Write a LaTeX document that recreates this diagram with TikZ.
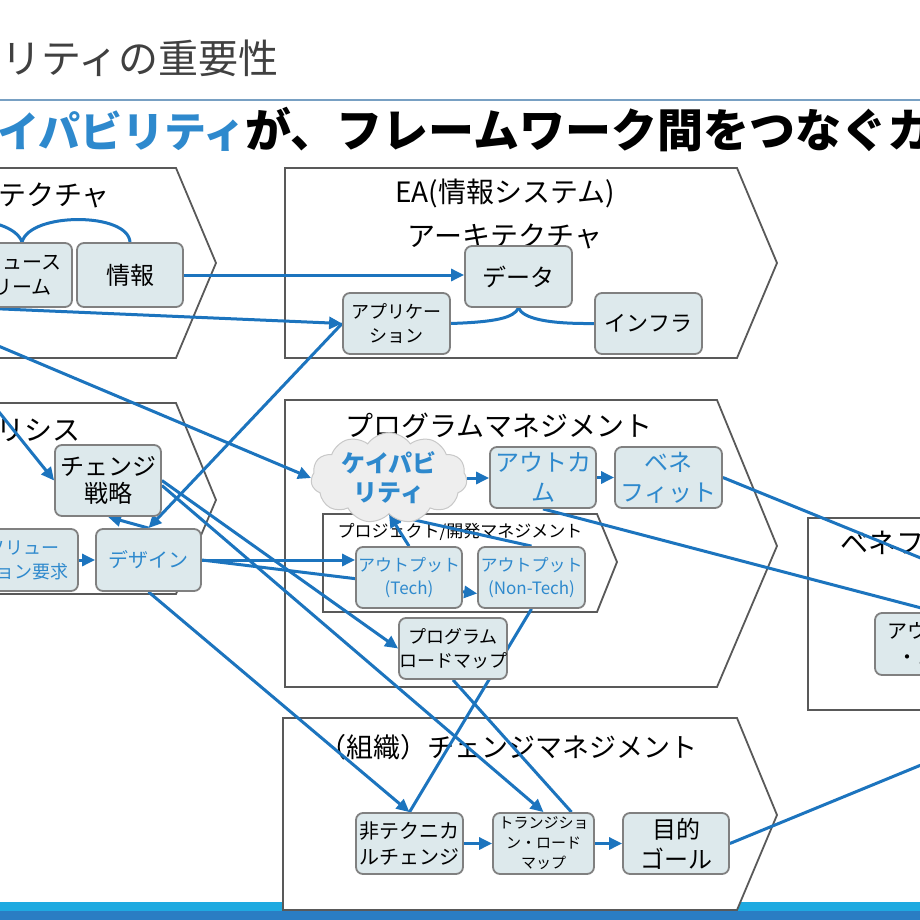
\documentclass[tikz,border=0pt]{standalone}
\usepackage{fontspec}
\setmainfont{Noto Sans CJK JP}
\usetikzlibrary{arrows.meta,shapes.symbols}

\definecolor{linkblue}{RGB}{28,116,190}
\definecolor{txtblue}{RGB}{46,137,205}
\definecolor{boxfill}{RGB}{221,233,236}
\definecolor{boxline}{RGB}{128,128,128}
\definecolor{frameline}{RGB}{89,89,89}
\definecolor{titlegray}{RGB}{64,64,64}
\definecolor{rulecol}{RGB}{120,160,195}
\definecolor{barlight}{RGB}{30,170,225}
\definecolor{bardark}{RGB}{42,125,195}
\definecolor{cloudfill}{RGB}{238,238,238}
\definecolor{cloudline}{RGB}{200,200,200}

\newcommand{\fsz}[2]{\fontsize{#1}{#2}\selectfont}

\pgfdeclarelayer{back}
\pgfdeclarelayer{wires}
\pgfsetlayers{back,wires,main}

\tikzset{
	blk/.style={draw=boxline, fill=boxfill, line width=1.8pt, rounded corners=7pt, align=center, inner sep=0pt, minimum width=106pt, minimum height=61pt},
	chev/.style={draw=frameline, fill=white, line width=1.8pt},
	link/.style={draw=linkblue, line width=3pt, -{Triangle[length=13pt,width=12pt]}},
	wire/.style={draw=linkblue, line width=3pt},
	capcloud/.style={cloud, cloud puffs=11, cloud puff arc=110, cloud ignores aspect, draw=cloudline, fill=cloudfill, line width=1pt, minimum width=156pt, minimum height=84pt, inner sep=0pt, align=center},
}

\begin{document}
\begin{tikzpicture}[x=1pt, y=-1pt]
		\useasboundingbox (0,0) rectangle (920,920);
		
		% heading
		\node[anchor=east, inner sep=0pt, text=titlegray, font=\fsz{40}{44}] (ttl) at (279,58) {ビリティの重要性};
		\draw[rulecol, line width=2pt] (0,100) -- (920,100);
		\node[anchor=west, inner sep=0pt, font=\bfseries\fsz{46}{52}] (subttl) at (-3,130) {\textcolor{txtblue}{\fsz{42}{52}イパビリティ}が、フレームワーク間をつなぐカ};
		
		\coordinate (lft1) at (-30,307.6);
		\coordinate (lft2) at (-30,334);
		\coordinate (lft3) at (-30,376);
		\coordinate (bl) at (-90,243);
		\coordinate (rgt1) at (960,574);
		\coordinate (rgt2) at (960,749);
		
		\begin{pgfonlayer}{back}
			\fill[barlight] (0,902) rectangle (920,911);
			\fill[bardark] (0,911) rectangle (920,920);
			
			\draw[chev] (-10,168) -- (176,168) -- (216,263) -- (176,358) -- (-10,358) --cycle;
			\draw[chev] (285,168) -- (737,168) -- (777,263) -- (737,358) -- (285,358) --cycle;
			\draw[chev] (-10,403) -- (176,403) -- (216,500) -- (176,594) -- (-10,594) --cycle;
			\draw[chev] (285,400) -- (717,400) -- (777,546) -- (717,687) -- (285,687) --cycle;
			\draw[chev] (323,514) -- (597,514) -- (617,562) -- (597,612) -- (323,612) --cycle;
			\draw[chev] (808,518) rectangle (940,710);
			\draw[chev] (283,718) -- (737,718) -- (777,815) -- (737,910) -- (283,910) --cycle;
			
			\node[anchor=west, inner sep=0pt, font=\fsz{28}{32}] (batl) at (-2,195) {テクチャ};
			\node[align=center, inner sep=0pt, font=\fsz{28}{44}] (eatl) at (505,214) {EA(情報システム)\\アーキテクチャ};
			\node[anchor=west, inner sep=0pt, font=\fsz{28}{32}] (antl) at (-4,430) {リシス};
			\node[inner sep=0pt, font=\fsz{28}{32}] (pmtl) at (499,426) {プログラムマネジメント};
			\node[inner sep=0pt, font=\fsz{17}{20}] (pjtl) at (460,532) {プロジェクト/開発マネジメント};
			\node[anchor=west, inner sep=0pt, font=\fsz{28}{32}] (bftl) at (840,543) {ベネフィット};
			\node[inner sep=0pt, font=\fsz{27}{32}] (cmtl) at (508,747) {（組織）チェンジマネジメント};
		\end{pgfonlayer}
		
		% architecture
		\node[blk, minimum width=100pt, minimum height=64pt, font=\fsz{20}{25}] (vs) at (22,275) {リュース\\リーム};
		\node[blk, minimum height=64pt, font=\fsz{24}{28}] (info) at (130,275) {情報};
		\node[blk, minimum width=107pt, font=\fsz{24}{28}] (data) at (518.5,276.5) {データ};
		\node[blk, minimum width=107pt, font=\fsz{18}{24}] (app) at (396.5,323.5) {アプリケー\\ション};
		\node[blk, minimum width=107pt, font=\fsz{22}{26}] (infra) at (648.5,323.5) {インフラ};
		
		% analysis
		\node[blk, minimum height=71pt, font=\fsz{24}{27}] (strategy) at (108,480.5) {チェンジ\\戦略};
		\node[blk, minimum width=108pt, minimum height=62pt, text=txtblue, font=\fsz{18}{24}] (solreq) at (24,560) {ソリュー\\ション要求};
		\node[blk, minimum width=105pt, minimum height=62pt, text=txtblue, font=\fsz{20}{24}] (design) at (148.5,560) {デザイン};
		
		% program
		\node[capcloud, text=txtblue, font=\bfseries\fsz{24}{29}] (cap) at (389,478) {ケイパビ\\リティ};
		\node[blk, text=txtblue, font=\fsz{24}{30}] (outcome) at (543,477.5) {アウトカ\\ム};
		\node[blk, minimum width=107pt, text=txtblue, font=\fsz{24}{30}] (benefit) at (668.5,477.5) {ベネ\\フィット};
		\node[blk, text=txtblue, font=\fsz{17}{23}] (tech) at (409,577.5) {アウトプット\\(Tech)};
		\node[blk, minimum width=107pt, text=txtblue, font=\fsz{17}{23}] (nontech) at (531.5,577.5) {アウトプット\\(Non-Tech)};
		\node[blk, minimum width=108pt, font=\fsz{18}{24}] (roadmap) at (453,648.5) {プログラム\\ロードマップ};
		\node[blk, minimum width=124pt, minimum height=62pt, font=\fsz{20}{26}] (outben) at (937,644) {アウトカム\\・ゴール};
		
		% change
		\node[blk, minimum width=107pt, font=\fsz{20}{26}] (nontechchg) at (409.5,843.5) {非テクニカ\\ルチェンジ};
		\node[blk, minimum width=101pt, font=\fsz{15}{20}] (transition) at (543.5,843.5) {トランジショ\\ン・ロード\\マップ};
		\node[blk, font=\fsz{24}{30}] (goal) at (676,843.5) {目的\\ゴール};
		
		\begin{pgfonlayer}{wires}
			\draw[wire] (bl) .. controls (-88,212) and (12,212) .. (vs.north);
			\draw[wire] (vs.north) .. controls (30,212) and (128,212) .. (info.north);
			\draw[wire] (app.east) .. controls (495,322) and (514,318) .. (data.south);
			\draw[wire] (data.south) .. controls (523,318) and (545,324) .. (infra.west);
			
			\draw[link] (info.east) -- (data.west |- info.east);
			\draw[link] (lft1) -- (app.west);
			\draw[link] (app.west) -- (design.north);
			\draw[link] (lft2) -- (cap.west);
			\draw[link] (lft3) -- (strategy.west);
			\draw[link] (solreq.east) -- (design.west);
			\draw[link] (design.north) -- (strategy.south);
			\draw[link] (design.east) -- (tech.west |- design.east);
			\draw[link] (design.east) -- ([yshift=-16pt]nontech.west);
			\draw[link] (tech.north) -- (cap.south);
			\draw[link] (nontech.north) -- (cap.south);
			\draw[link] (cap.east) -- (outcome.west |- cap.east);
			\draw[link] (outcome) -- (benefit);
			\draw[link] (strategy.east) -- (roadmap.west);
			\draw[link] ([yshift=-5pt]strategy.east) -- (transition.north);
			\draw[link] (design.south) -- (nontechchg.north);
			\draw[wire] (nontech.south) -- (nontechchg.north);
			\draw[wire] (roadmap.south) -- ([xshift=28pt]transition.north);
			\draw[link] (outcome.south) -- (outben.north);
			\draw[wire] (benefit.east) -- (rgt1);
			\draw[wire] (goal.east) -- (rgt2);
			\draw[link] (nontechchg) -- (transition);
			\draw[link] (transition) -- (goal);
		\end{pgfonlayer}
	\end{tikzpicture}
\end{document}
